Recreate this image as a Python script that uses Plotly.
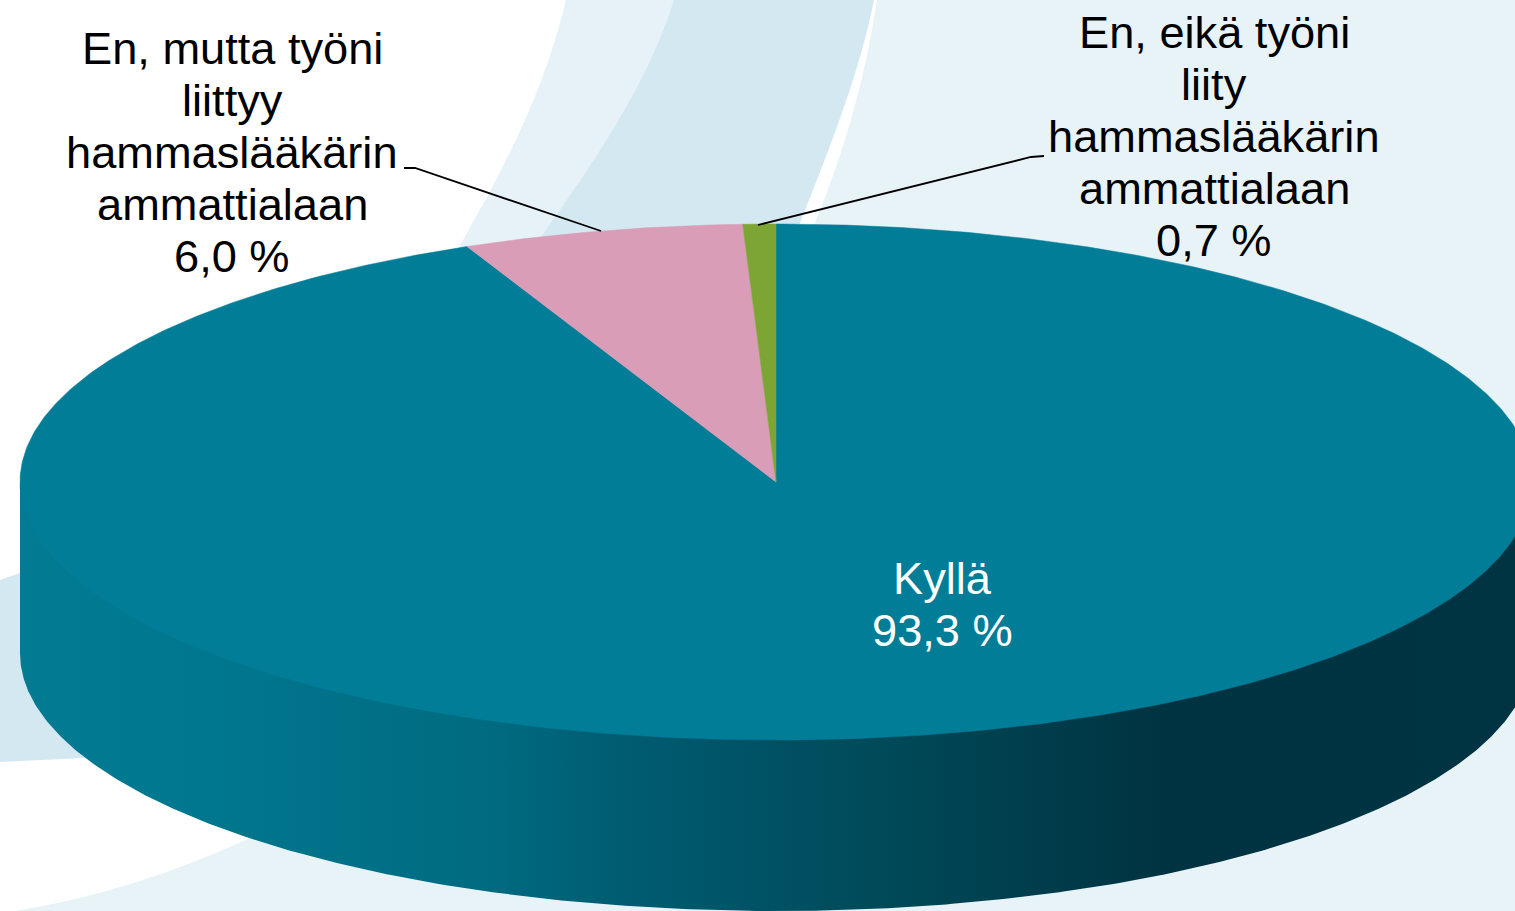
import numpy as np
import plotly.graph_objects as go

# Data
categories = ["Kyllä", "En, mutta työni liittyy hammaslääkärin ammattialaan", "En, eikä työni liity hammaslääkärin ammattialaan"]
values = [93.3, 6.0, 0.7]
slice_colors = ["#027D98", "#DA9DB7", "#7DA534"]
label_lines = [
    ["Kyllä", "93,3 %"],
    ["En, mutta työni", "liittyy", "hammaslääkärin", "ammattialaan", "6,0 %"],
    ["En, eikä työni", "liity", "hammaslääkärin", "ammattialaan", "0,7 %"],
]
label_colors = ["#FFFFFF", "#000000", "#000000"]
label_centers = [(942, 578.7), (232, 48.7), (1214, 32.7)]
leaders = [None, ([404, 415, 601], [168, 168, 231]), ([1044, 1031, 758], [156, 157, 225])]

# Pie projection geometry
CX, CY, RX, RY, DEPTH = 776, 482, 756, 258, 171
LINE_STEP = 52
FONT_SIZE = 45.2
side_scale = [
    [0.00, "#027B93"], [0.12, "#00778E"], [0.25, "#006F85"], [0.317, "#006A80"],
    [0.38, "#005F74"], [0.45, "#00566A"], [0.587, "#004857"], [0.655, "#003F4E"],
    [0.76, "#003341"], [1.00, "#003442"],
]

fig = go.Figure()

# Side wall: front half of the cylinder
t = np.linspace(np.pi / 2, 3 * np.pi / 2, 361)
front_x = CX + RX * np.sin(t)
front_y = CY + DEPTH - RY * np.cos(t)
side_x = np.concatenate([[CX + RX], front_x, [CX - RX]])
side_y = np.concatenate([[CY], front_y, [CY]])
fig.add_trace(go.Scatter(
    x=side_x, y=side_y, mode="lines", fill="toself", line=dict(width=0),
    fillgradient=dict(type="horizontal", colorscale=side_scale),
    hoverinfo="skip", showlegend=False,
))

# Top face: one wedge per value, clockwise from twelve o'clock
edges = np.cumsum([0] + values) / sum(values) * 2 * np.pi
for name, a0, a1, color in zip(categories, edges[:-1], edges[1:], slice_colors):
    a = np.linspace(a0, a1, max(int((a1 - a0) * 120), 8))
    fig.add_trace(go.Scatter(
        x=np.concatenate([[CX], CX + RX * np.sin(a), [CX]]),
        y=np.concatenate([[CY], CY - RY * np.cos(a), [CY]]),
        mode="lines", fill="toself", fillcolor=color, line=dict(width=0.5, color=color),
        name=name, hoverinfo="name", showlegend=False,
    ))

# Leader lines
for lead in leaders:
    if lead:
        fig.add_trace(go.Scatter(x=lead[0], y=lead[1], mode="lines",
                                 line=dict(color="#000000", width=1.8),
                                 hoverinfo="skip", showlegend=False))

# Labels
annotations = []
for lines, color, (lx, ly) in zip(label_lines, label_colors, label_centers):
    for i, line in enumerate(lines):
        annotations.append(dict(
            x=lx, y=ly + i * LINE_STEP, xref="x", yref="y", text=line, showarrow=False,
            xanchor="center", yanchor="middle",
            font=dict(family="Liberation Sans", size=FONT_SIZE, color=color),
        ))

# Decorative background swooshes
bg_shapes = [
    dict(path="M877,0 C860,110 832,180 815,223 C700,520 500,720 250,838 Q133,892 15,911 L1515,911 L1515,0 Z",
         fillcolor="#E8F3F8"),
    dict(path="M566,0 C548,75 520,135 488,195 L459,247 L300,400 L500,400 L700,200 L700,0 Z",
         fillcolor="#E6F2F7"),
    dict(path="M674,0 C650,75 610,140 541,237 L300,450 L20,573 L0,580 L0,762 L83,758 L500,600 "
              "L800,223 C832,143 860,70 874,0 Z",
         fillcolor="#D4E8F1"),
]
shapes = [dict(type="path", xref="x", yref="y", layer="below", line=dict(width=0), **s) for s in bg_shapes]

fig.update_layout(
    width=1515, height=911, margin=dict(l=0, r=0, t=0, b=0),
    paper_bgcolor="#FFFFFF", plot_bgcolor="#FFFFFF", showlegend=False,
    xaxis=dict(range=[0, 1515], visible=False, fixedrange=True),
    yaxis=dict(range=[911, 0], visible=False, fixedrange=True),
    annotations=annotations, shapes=shapes,
)
fig.write_html("out.html", config=dict(displayModeBar=False),
               post_script="document.body.style.margin='0';document.documentElement.style.overflow='hidden';")
